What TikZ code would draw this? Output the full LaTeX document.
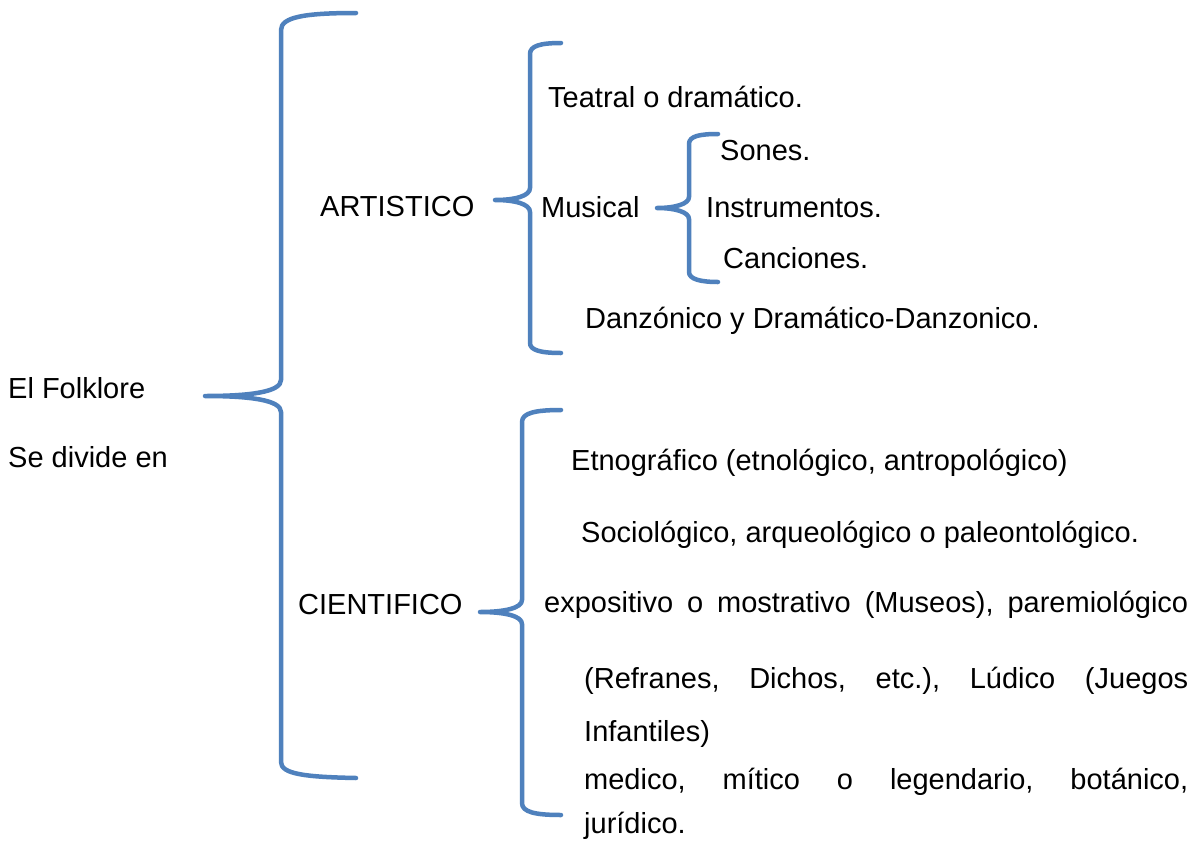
\documentclass[tikz,border=0pt]{standalone}
\usepackage{fontspec}
\setmainfont{Liberation Sans}
\definecolor{bracecol}{HTML}{4F81BD}
\begin{document}
\begin{tikzpicture}[x=1pt,y=-1pt,
  lbl/.style={anchor=base west,inner sep=0pt,font=\fontsize{29}{34}\selectfont},
  brace/.style={draw=bracecol,line width=4.5pt,line cap=round,line join=round}]
\useasboundingbox (0,0) rectangle (1195,844);
\fill[white] (0,0) rectangle (1195,844);
% texts
\node[lbl] (folk) at (8,398) {El Folklore};
\node[lbl] (div) at (8,467) {Se divide en};
\node[lbl] (art) at (320,216) {ARTISTICO};
\node[lbl] (teat) at (548,107) {Teatral o dramático.};
\node[lbl] (mus) at (541,217) {Musical};
\node[lbl] (son) at (720,160) {Sones.};
\node[lbl] (ins) at (706,217) {Instrumentos.};
\node[lbl] (can) at (723,268) {Canciones.};
\node[lbl] (dan) at (585,328) {Danzónico y Dramático-Danzonico.};
\node[lbl] (cie) at (298,614) {CIENTIFICO};
\node[lbl] (etn) at (571,470) {Etnográfico (etnológico, antropológico)};
\node[lbl] (soc) at (581,542) {Sociológico, arqueológico o paleontológico.};
\node[lbl] (exp) at (544,612) {\hbox to 644pt{expositivo\hfill o\hfill mostrativo\hfill (Museos),\hfill paremiológico}};
\node[lbl] (ref) at (584,688) {\hbox to 604pt{(Refranes,\hfill Dichos,\hfill etc.),\hfill Lúdico\hfill (Juegos}};
\node[lbl] (inf) at (584,741) {Infantiles)};
\node[lbl] (med) at (584,789) {\hbox to 604pt{medico,\hfill mítico\hfill o\hfill legendario,\hfill botánico,}};
\node[lbl] (jur) at (584,833) {jurídico.};
% big brace
\coordinate (bigtip) at (205,396);
\draw[brace] (356,13) .. controls (305,13) and (281,17) .. (281,30)
  -- (281,380) .. controls (281,392) and (250,396) .. (bigtip)
  .. controls (250,396) and (281,400) .. (281,412)
  -- (281,762) .. controls (281,774) and (305,777) .. (356,778);
% artistico brace
\coordinate (arttip) at (495,200);
\draw[brace] (561,43) .. controls (540,43) and (530,46) .. (530,54)
  -- (530,188) .. controls (530,196) and (515,200) .. (arttip)
  .. controls (515,200) and (530,204) .. (530,212)
  -- (530,343) .. controls (530,350) and (540,353) .. (561,353);
% musical brace
\coordinate (mustip) at (657,208);
\draw[brace] (718,134) .. controls (700,134) and (689,136) .. (689,144)
  -- (689,197) .. controls (689,204) and (675,208) .. (mustip)
  .. controls (675,208) and (689,212) .. (689,219)
  -- (689,272) .. controls (689,279) and (700,282) .. (718,282);
% cientifico brace
\coordinate (cietip) at (480,612);
\draw[brace] (561,410) .. controls (535,410) and (522,413) .. (522,422)
  -- (522,600) .. controls (522,608) and (505,612) .. (cietip)
  .. controls (505,612) and (522,616) .. (522,624)
  -- (522,803) .. controls (522,812) and (535,815) .. (561,815);
\end{tikzpicture}
\end{document}
